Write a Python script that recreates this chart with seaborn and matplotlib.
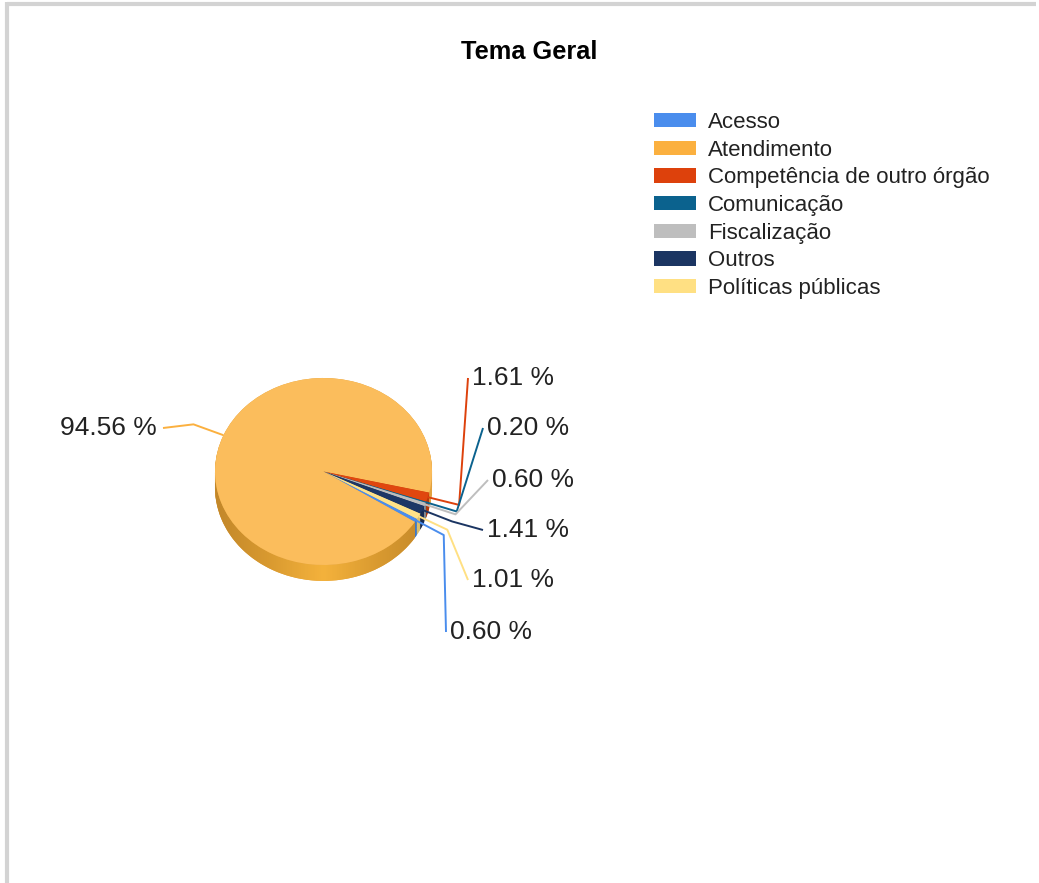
import numpy as np
import matplotlib
matplotlib.use("Agg")
import matplotlib.pyplot as plt
import seaborn as sns
from matplotlib.patches import Patch, Polygon
from matplotlib.colors import LinearSegmentedColormap

# data
categories = ["Acesso", "Atendimento", "Competência de outro órgão", "Comunicação",
              "Fiscalização", "Outros", "Políticas públicas"]
shares = [0.60, 94.56, 1.61, 0.20, 0.60, 1.41, 1.01]

# styles
top_colors = ["#4a8ded", "#fbbd5c", "#e0470f", "#0d6690", "#bdbdbd", "#1d3766", "#ffe288"]
legend_colors = ["#4a8ded", "#fbb03f", "#dd410c", "#0b628e", "#bebebe", "#1b3562", "#ffe083"]
side_colors = ["#3d78c8", "#e2a23e", "#b53a0c", "#0a5274", "#9b9b9b", "#162b52", "#d9bf70"]

# label text anchors in pixels from the top-left (x, y, alignment)
label_layout = [(450, 632, "left"), (157, 428, "right"), (472, 378, "left"),
                (487, 428, "left"), (492, 480, "left"), (487, 530, "left"),
                (472, 580, "left")]

W, H = 1039, 883
cx, cy, rx, ry = 323.5, 471.5, 108.5, 93.5
depth = 0.17

sns.set_theme(style="white")
plt.rcParams["font.family"] = ["Liberation Sans", "DejaVu Sans"]

fig = plt.figure(figsize=(W / 100, H / 100), dpi=100)
fig.patch.set_facecolor("white")

# pie axes: 1 data unit = rx px horizontally, ry px vertically
L = 1.5
ax = fig.add_axes([(cx - L * rx) / W, (H - cy - L * ry) / H, 2 * L * rx / W, 2 * L * ry / H])
start = -30.44

# side wall: stack of darker pies shifted down
for d in np.linspace(depth, 0.0, 24):
    ax.pie(shares, colors=side_colors, startangle=start, counterclock=False,
           center=(0, -d), radius=1.0, wedgeprops=dict(linewidth=0))

# shaded side of the big slice (darker at the rim ends, lighter in front)
big_end = 360 + start - 360 * shares[0] / sum(shares)
arc = np.deg2rad(np.linspace(180, big_end, 120))
pts = np.concatenate([np.column_stack([np.cos(arc), np.sin(arc)]),
                      np.column_stack([np.cos(arc[::-1]), np.sin(arc[::-1]) - depth])])
clip = Polygon(pts, closed=True, transform=ax.transData, facecolor="none", edgecolor="none")
ax.add_patch(clip)
side_cmap = LinearSegmentedColormap.from_list(
    "side", ["#c2872a", "#d99a30", "#f4b23c", "#d99a30", "#c2872a"])
grad = np.linspace(0, 1, 256)[None, :]
img = ax.imshow(grad, cmap=side_cmap, extent=(-1, 1, -1 - depth, 0), aspect="auto",
                zorder=1.5, interpolation="bilinear")
img.set_clip_path(clip)

wedges, _ = ax.pie(shares, colors=top_colors, startangle=start, counterclock=False,
                   center=(0, 0), radius=1.0, wedgeprops=dict(linewidth=0, zorder=2))
ax.set_xlim(-L, L)
ax.set_ylim(-L, L)
ax.set_aspect("auto")
ax.axis("off")

# overlay in pixel coordinates for leader lines, labels and frame
ov = fig.add_axes([0, 0, 1, 1], zorder=5)
ov.set_xlim(0, W)
ov.set_ylim(H, 0)
ov.axis("off")
ov.patch.set_alpha(0)


def to_px(r, ang):
    a = np.deg2rad(ang)
    return cx + r * rx * np.cos(a), cy - r * ry * np.sin(a)


for w, val, col, (tx, ty, ha) in zip(wedges, shares, legend_colors, label_layout):
    mid = (w.theta1 + w.theta2) / 2
    x0, y0 = to_px(1.0, mid)
    x1, y1 = to_px(1.3, mid)
    x2 = tx - 4 if ha == "left" else tx + 6
    ov.plot([x0, x1, x2], [y0, y1, ty], color=col, lw=1.4, solid_capstyle="butt")
    ov.text(tx, ty, f"{val:.2f} %", ha=ha, va="center", fontsize=19, color="#222222")

ov.text(529, 52, "Tema Geral", ha="center", va="center", fontsize=18.3,
        fontweight="bold", color="#000000")

# screenshot frame (top and left)
ov.plot([6.5, 1036], [3.5, 3.5], color="#d3d3d3", lw=3, solid_capstyle="butt")
ov.plot([6.5, 6.5], [2, H], color="#d3d3d3", lw=3, solid_capstyle="butt")

# legend
handles = [Patch(facecolor=c, edgecolor="none") for c in legend_colors]
fig.legend(handles, categories, loc="upper left",
           bbox_to_anchor=(654 / W, 1 - 112 / H), frameon=False,
           fontsize=16, handlelength=1.9, handleheight=0.63, handletextpad=0.54,
           labelspacing=0.3, borderpad=0, borderaxespad=0, labelcolor="#222222")

fig.savefig("out.png", dpi=100, facecolor="white")
